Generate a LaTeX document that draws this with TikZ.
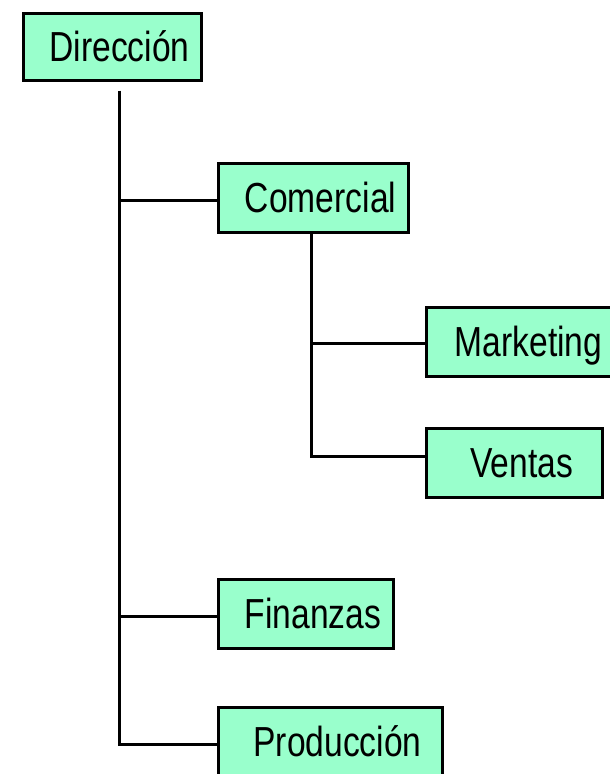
\documentclass[tikz,border=0pt]{standalone}
\usepackage{fontspec}
\setmainfont{Liberation Sans}
\newfontfamily\orgfont[FakeStretch=0.8]{Liberation Sans}
\usepackage{tikz}
\usetikzlibrary{positioning,calc}
\definecolor{mint}{RGB}{153,255,204}

\begin{document}
\begin{tikzpicture}[x=1pt, y=-1pt, line width=3.2pt,
  unitbox/.style={draw, fill=mint, anchor=north west, inner sep=0pt, minimum height=69pt,
    text height=30pt, text depth=0pt, font=\orgfont\fontsize{42}{50}\selectfont,
    execute at begin node={\hspace*{15pt}}}]
\clip (0,0) rectangle (610,774);
\node[unitbox, minimum width=178pt, minimum height=67pt] (dir) at (21.5,11.5) {Dirección};
\node[unitbox, minimum width=190pt] (com) at (216.5,161.5) {Comercial};
\node[unitbox, minimum width=190pt] (mkt) at (424.5,305.5) {Marketing};
\node[unitbox, minimum width=176pt] (ven) at (424.5,426.5) {Ventas};
\node[unitbox, minimum width=175pt] (fin) at (216.5,577.5) {Finanzas};
\node[unitbox, minimum width=224pt] (pro) at (216.5,705.5) {Producción};
\coordinate (dtop) at ($(dir.south)+(7.5,9)$);
\coordinate (comin) at ([yshift=-3pt]com.west);
\coordinate (finin) at ([yshift=-3pt]fin.west);
\coordinate (proin) at ([yshift=-3pt]pro.west);
\draw (dtop) |- (proin);
\draw (comin) -- (comin -| dtop);
\draw (finin) -- (finin -| dtop);
\coordinate (ctop) at ($(com.south)+(-1.5,0)$);
\coordinate (mktin) at ([yshift=-2pt]mkt.west);
\coordinate (venin) at ([yshift=6pt]ven.west);
\draw (ctop) |- (venin);
\draw (mktin) -- (mktin -| ctop);
\end{tikzpicture}
\end{document}
